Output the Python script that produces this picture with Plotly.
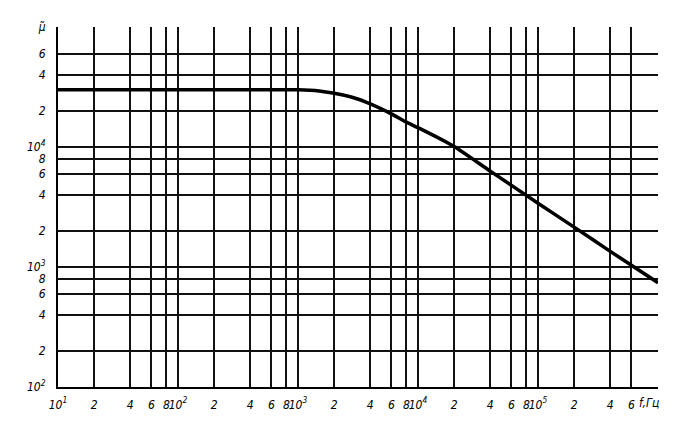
import plotly.graph_objects as go

# Curve data (frequency in Hz, permeability)
freq = [10, 100, 1000, 1500, 2000, 3000, 4000, 6000, 8000, 10000, 20000, 40000,
        100000, 200000, 400000, 1000000]
mu = [30000, 30000, 30000, 29300, 28000, 25500, 22900, 18900, 16100, 14500, 10100, 6300,
      3400, 2150, 1350, 740]

# Grid / tick positions and labels
x_ticks = [10, 20, 40, 60, 80, 100, 200, 400, 600, 800, 1000, 2000, 4000, 6000, 8000,
           10000, 20000, 40000, 60000, 80000, 100000, 200000, 400000, 600000, 1000000]
x_labels = ["10<sup>1</sup>", "2", "4", "6", "8", "10<sup>2</sup>", "2", "4", "6", "8",
            "10<sup>3</sup>", "2", "4", "6", "8", "10<sup>4</sup>", "2", "4", "6", "8",
            "10<sup>5</sup>", "2", "4", "6", ""]
y_ticks = [100, 200, 400, 600, 800, 1000, 2000, 4000, 6000, 8000,
           10000, 20000, 40000, 60000, 100000]
y_labels = ["10<sup>2</sup>", "2", "4", "6", "8", "10<sup>3</sup>", "2", "4", "6", "8",
            "10<sup>4</sup>", "2", "4", "6", "μ\u0303"]
x_title = "f,Гц"

FONT = "DejaVu Sans Condensed, Liberation Sans Narrow, DejaVu Sans, sans-serif"

fig = go.Figure()
fig.add_trace(go.Scatter(
    x=freq, y=mu, mode="lines",
    line=dict(color="black", width=3.5, shape="spline", smoothing=0.5),
    hoverinfo="skip", showlegend=False,
))

axis_common = dict(
    type="log", showgrid=True, gridcolor="#111111", gridwidth=1.5,
    zeroline=False, ticks="", showline=True, linecolor="black", linewidth=2.2,
    automargin=False, tickangle=0,
    tickfont=dict(family=FONT, size=12, color="black", style="italic"),
)

fig.update_xaxes(range=[1, 6], tickvals=x_ticks, ticktext=x_labels,
                 ticklabelstandoff=5, **axis_common)
fig.update_yaxes(range=[2, 5], tickvals=y_ticks, ticktext=y_labels,
                 ticklabelstandoff=8, **axis_common)

fig.add_annotation(text=x_title, xref="paper", yref="paper", x=1.005, y=0,
                   xanchor="right", yanchor="top", yshift=-7, showarrow=False,
                   font=dict(family=FONT, size=12, color="black", style="italic"))

# page body adds an 8px margin, so the figure is sized to fit the 686x427 window
fig.update_layout(
    width=678, height=419,
    margin=dict(l=50, r=28, t=19, b=40),
    paper_bgcolor="white", plot_bgcolor="white",
)

fig.write_html("out.html")
